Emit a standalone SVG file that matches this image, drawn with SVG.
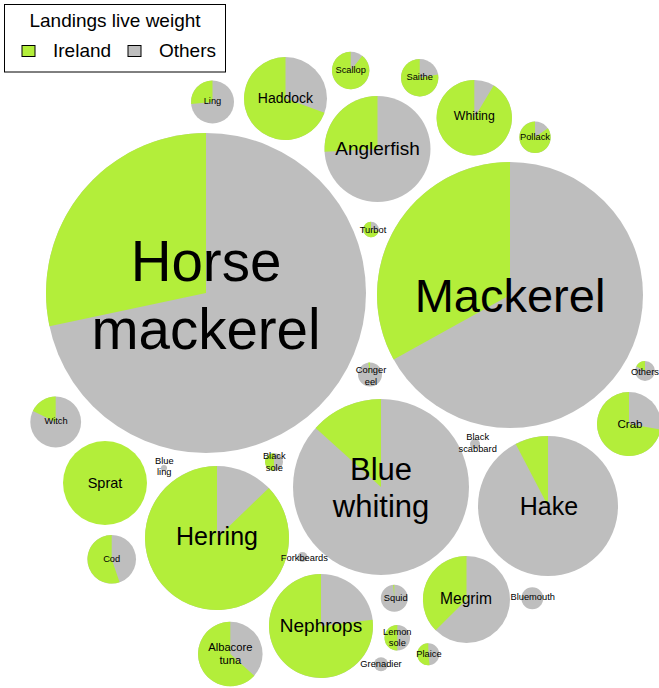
<svg xmlns="http://www.w3.org/2000/svg" width="659" height="688" viewBox="0 0 659 688">
<style>
.o{fill:#BEBEBE}
.g{fill:#B3EE3A}
text{font-family:"Liberation Sans",Arial,sans-serif;fill:#000;text-anchor:middle}
.s{font-size:9.3px}
.leg{text-anchor:start;font-size:19px}
</style>
<rect width="659" height="688" fill="#fff"/>
<g id="legend">
<rect x="4.5" y="4.5" width="221" height="67.5" fill="#fff" stroke="#000" stroke-width="1"/>
<text x="115" y="27" style="font-size:19px">Landings live weight</text>
<rect x="22" y="45.5" width="13" height="11" class="g" stroke="#000" stroke-width="1"/>
<text class="leg" x="53" y="57">Ireland</text>
<rect x="128" y="45.5" width="13" height="11" class="o" stroke="#000" stroke-width="1"/>
<text class="leg" x="159" y="57">Others</text>
</g>
<g id="horse-mackerel"><circle class="o" cx="206" cy="293" r="160"/><path class="g" d="M206,293L206,133A160,160 0 0 0 49.5,326.3Z"/><text x="206" y="281" style="font-size:56.5px">Horse</text><text x="206" y="349" style="font-size:56.5px">mackerel</text></g>
<g id="mackerel"><circle class="o" cx="510" cy="295" r="133"/><path class="g" d="M510,295L510,162A133,133 0 0 0 393.7,359.5Z"/><text x="510" y="312" style="font-size:47px">Mackerel</text></g>
<g id="anglerfish"><circle class="o" cx="377.5" cy="149" r="53"/><path class="g" d="M377.5,149L377.5,96A53,53 0 0 0 324.6,151.8Z"/><text x="377.5" y="155" style="font-size:19px">Anglerfish</text></g>
<g id="haddock"><circle class="o" cx="285.5" cy="98.5" r="41.5"/><path class="g" d="M285.5,98.5L285.5,57A41.5,41.5 0 1 0 324.5,112.7Z"/><text x="285.5" y="103" style="font-size:14px">Haddock</text></g>
<g id="ling"><circle class="o" cx="212.5" cy="102" r="21.5"/><path class="g" d="M212.5,102L212.5,80.5A21.5,21.5 0 0 0 191.1,103.9Z"/><text class="s" x="212.5" y="104">Ling</text></g>
<g id="scallop"><circle class="o" cx="350.7" cy="70.5" r="18.7"/><path class="g" d="M350.7,70.5L350.7,51.8A18.7,18.7 0 1 0 362.2,55.8Z"/><text class="s" x="350.7" y="72.5">Scallop</text></g>
<g id="saithe"><circle class="o" cx="419.7" cy="77.7" r="18.7"/><path class="g" d="M419.7,77.7L419.7,59A18.7,18.7 0 1 0 438.1,74.5Z"/><text class="s" x="419.7" y="80">Saithe</text></g>
<g id="whiting"><circle class="o" cx="474.3" cy="117.7" r="37.7"/><path class="g" d="M474.3,117.7L474.3,80A37.7,37.7 0 1 0 493.7,85.4Z"/><text x="474.3" y="120" style="font-size:12.3px">Whiting</text></g>
<g id="pollack"><circle class="o" cx="535" cy="137.3" r="15.7"/><path class="g" d="M535,137.3L535,121.6A15.7,15.7 0 1 0 547.9,128.3Z"/><text class="s" x="535" y="140">Pollack</text></g>
<g id="turbot"><circle class="o" cx="371" cy="229.5" r="7.8"/><path class="g" d="M371,229.5L371,221.7A7.8,7.8 0 1 0 378.7,230.9Z"/><text class="s" x="373" y="232.7">Turbot</text></g>
<g id="conger-eel"><circle class="o" cx="370" cy="374.5" r="12"/><path class="g" d="M370,374.5L370,362.5A12,12 0 0 0 368.3,362.6Z"/><text class="s" x="371" y="372.7">Conger</text><text class="s" x="371" y="384.7">eel</text></g>
<g id="others"><circle class="o" cx="645" cy="371" r="10"/><path class="g" d="M645,371L645,361A10,10 0 0 0 636.3,366.2Z"/><text class="s" x="645" y="375">Others</text></g>
<g id="crab"><circle class="o" cx="629" cy="424" r="32"/><path class="g" d="M629,424L629,392A32,32 0 1 0 660.5,429.6Z"/><text x="630" y="428" style="font-size:11.5px">Crab</text></g>
<g id="witch"><circle class="o" cx="55.7" cy="422" r="25.4"/><path class="g" d="M55.7,422L55.7,396.6A25.4,25.4 0 0 0 32.9,410.9Z"/><text class="s" x="56" y="424.3">Witch</text></g>
<g id="sprat"><circle class="g" cx="105" cy="483" r="42"/><text x="105" y="488" style="font-size:14.5px">Sprat</text></g>
<g id="blue-ling"><circle class="o" cx="164" cy="468" r="3"/><text class="s" x="164.3" y="464">Blue</text><text class="s" x="164.3" y="475.3">ling</text></g>
<g id="black-sole"><circle class="o" cx="274" cy="462" r="9"/><path class="g" d="M274,462L274,453A9,9 0 0 0 274,471Z"/><text class="s" x="274.3" y="459.3">Black</text><text class="s" x="274.3" y="471">sole</text></g>
<g id="blue-whiting"><circle class="o" cx="381" cy="487" r="88"/><path class="g" d="M381,487L381,399A88,88 0 0 0 315.6,428.1Z"/><text x="381" y="480" style="font-size:31px">Blue</text><text x="381" y="517" style="font-size:31px">whiting</text></g>
<g id="black-scabbard"><circle class="o" cx="475" cy="444" r="5"/><text class="s" x="477.7" y="440">Black</text><text class="s" x="477.7" y="451.7">scabbard</text></g>
<g id="hake"><circle class="o" cx="548" cy="506" r="70"/><path class="g" d="M548,506L548,436A70,70 0 0 0 515.7,443.9Z"/><text x="549" y="515" style="font-size:25px">Hake</text></g>
<g id="herring"><circle class="o" cx="217" cy="538" r="72"/><path class="g" d="M217,538L217,466A72,72 0 1 0 268.8,488Z"/><text x="217" y="545" style="font-size:25px">Herring</text></g>
<g id="forkbeards"><circle class="o" cx="302.5" cy="557" r="5"/><text class="s" x="304.3" y="560.7">Forkbeards</text></g>
<g id="cod"><circle class="o" cx="111.7" cy="559.3" r="24.3"/><path class="g" d="M111.7,559.3L111.7,535A24.3,24.3 0 1 0 119.6,582.3Z"/><text class="s" x="111.7" y="562.3">Cod</text></g>
<g id="nephrops"><circle class="o" cx="321" cy="626" r="52"/><path class="g" d="M321,626L321,574A52,52 0 1 0 372.6,619.7Z"/><text x="321" y="632" style="font-size:19px">Nephrops</text></g>
<g id="squid"><circle class="o" cx="394.3" cy="598.3" r="13.5"/><path class="g" d="M394.3,598.3L394.3,584.8A13.5,13.5 0 0 0 393.1,584.9Z"/><text class="s" x="395.7" y="601">Squid</text></g>
<g id="lemon-sole"><circle class="o" cx="397.3" cy="637.7" r="12.8"/><path class="g" d="M397.3,637.7L397.3,624.9A12.8,12.8 0 0 0 397.3,650.5Z"/><text class="s" x="397.3" y="635">Lemon</text><text class="s" x="397.3" y="646">sole</text></g>
<g id="grenadier"><circle class="o" cx="381" cy="664.3" r="7"/><text class="s" x="381" y="666.7">Grenadier</text></g>
<g id="plaice"><circle class="o" cx="428.3" cy="654.3" r="11"/><path class="g" d="M428.3,654.3L428.3,643.3A11,11 0 1 0 429.6,665.2Z"/><text class="s" x="429" y="656.7">Plaice</text></g>
<g id="megrim"><circle class="o" cx="466.5" cy="599.5" r="43.5"/><path class="g" d="M466.5,599.5L466.5,556A43.5,43.5 0 0 0 435.7,630.3Z"/><text x="466" y="604" style="font-size:15.6px">Megrim</text></g>
<g id="bluemouth"><circle class="o" cx="532.3" cy="598.3" r="11"/><text class="s" x="532.7" y="600">Bluemouth</text></g>
<g id="albacore-tuna"><circle class="o" cx="230.3" cy="654" r="32.3"/><path class="g" d="M230.3,654L230.3,621.7A32.3,32.3 0 1 0 254.3,675.7Z"/><text x="230.3" y="650.7" style="font-size:11.2px">Albacore</text><text x="230.3" y="664" style="font-size:11.2px">tuna</text></g>
<g id="connectors"/>
</svg>
